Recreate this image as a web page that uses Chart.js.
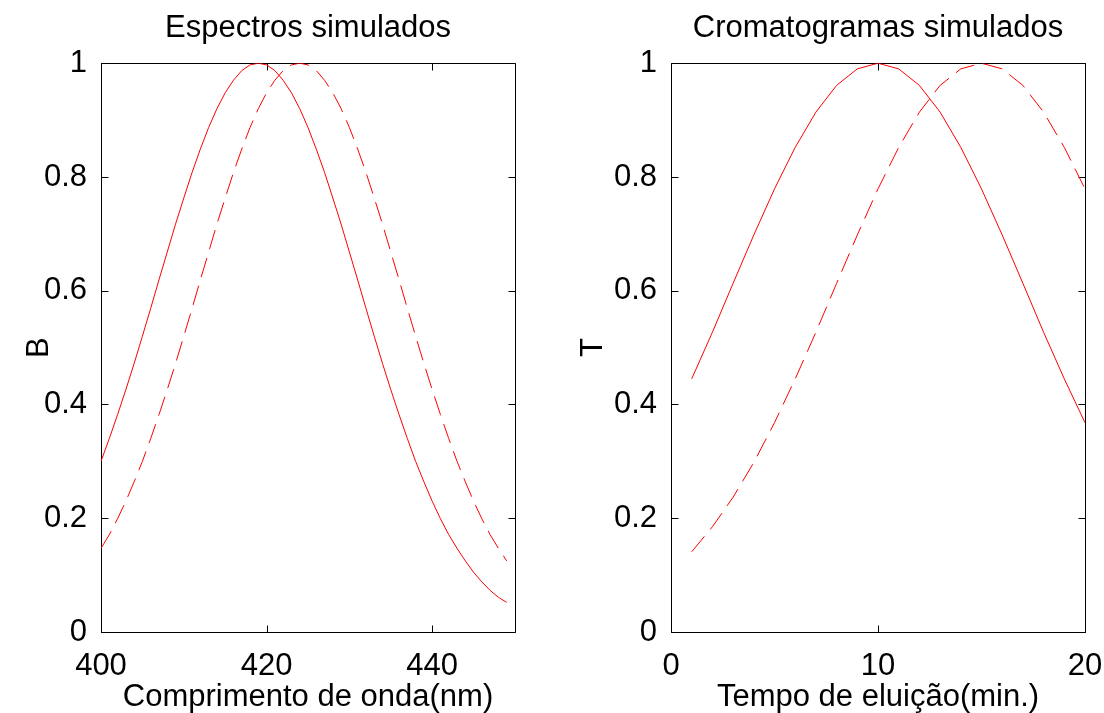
<!DOCTYPE html>
<html>
<head>
<meta charset="utf-8">
<script src="https://cdn.jsdelivr.net/npm/chart.js@4/dist/chart.umd.min.js"></script>
<style>
  body { margin: 0; background: #fff; overflow: hidden; }
  canvas { position: absolute; top: 0; }
</style>
</head>
<body>
<canvas id="espectros" width="552" height="713" style="left:0"></canvas>
<canvas id="cromatogramas" width="552" height="713" style="left:552px"></canvas>
<script>
// comprimento de onda (nm) e espectros
var lambdaNm = [400,401,402,403,404,405,406,407,408,409,
                410,411,412,413,414,415,416,417,418,419,
                420,421,422,423,424,425,426,427,428,429,
                430,431,432,433,434,435,436,437,438,439,
                440,441,442,443,444,445,446,447,448,449];
var spectrumA = [0.300,0.340,0.382,0.426,0.472,0.520,0.569,0.619,0.668,0.717,
                 0.763,0.808,0.849,0.887,0.920,0.948,0.970,0.987,0.997,1.000,
                 0.997,0.987,0.970,0.948,0.920,0.887,0.849,0.808,0.763,0.717,
                 0.668,0.619,0.569,0.520,0.472,0.426,0.382,0.340,0.300,0.264,
                 0.230,0.199,0.171,0.147,0.125,0.105,0.088,0.073,0.061,0.052];
var spectrumB = [0.147,0.171,0.199,0.230,0.264,0.300,0.340,0.382,0.426,0.472,
                 0.520,0.569,0.619,0.668,0.717,0.763,0.808,0.849,0.887,0.920,
                 0.948,0.970,0.987,0.997,1.000,0.997,0.987,0.970,0.948,0.920,
                 0.887,0.849,0.808,0.763,0.717,0.668,0.619,0.569,0.520,0.472,
                 0.426,0.382,0.340,0.300,0.264,0.230,0.199,0.171,0.147,0.125];

// tempo (min) e cromatogramas
var timeMin = [1,2,3,4,5,6,7,8,9,10,11,12,13,14,15,16,17,18,19,20];
var chromA = [0.445,0.527,0.613,0.698,0.779,0.852,0.914,0.961,0.990,1.000,
              0.990,0.961,0.914,0.852,0.779,0.698,0.613,0.527,0.445,0.368];
var chromB = [0.141,0.185,0.237,0.298,0.368,0.445,0.527,0.613,0.698,0.779,
              0.852,0.914,0.961,0.990,1.000,0.990,0.961,0.914,0.852,0.779];

var yTicks = [0, 0.2, 0.4, 0.6, 0.8, 1];
var lambdaTicks = [400, 420, 440];
var timeTicks = [0, 10, 20];

var FONT = 'Liberation Sans, Arial, Helvetica, sans-serif';

// caixa preta e marcas para dentro (estilo matlab)
var boxTicks = {
  id: 'boxTicks',
  beforeDatasetsDraw: function(chart) {
    var ctx = chart.ctx, a = chart.chartArea;
    var sx = chart.scales.x, sy = chart.scales.y;
    var L = Math.round(a.left) + 0.5, R = Math.round(a.right) + 0.5;
    var T = Math.round(a.top) + 0.5, B = Math.round(a.bottom) + 0.5;
    var len = 7;
    ctx.save();
    ctx.strokeStyle = '#000';
    ctx.lineWidth = 1;
    ctx.beginPath();
    ctx.rect(L, T, R - L, B - T);
    sx.ticks.forEach(function(t) {
      var px = Math.round(sx.getPixelForValue(t.value)) + 0.5;
      ctx.moveTo(px, B); ctx.lineTo(px, B - len);
      ctx.moveTo(px, T); ctx.lineTo(px, T + len);
    });
    sy.ticks.forEach(function(t) {
      var py = Math.round(sy.getPixelForValue(t.value)) + 0.5;
      ctx.moveTo(L, py); ctx.lineTo(L + len, py);
      ctx.moveTo(R, py); ctx.lineTo(R - len, py);
    });
    ctx.stroke();
    ctx.restore();
  }
};

function toPoints(xs, ys) {
  return xs.map(function(x, i) { return { x: x, y: ys[i] }; });
}

function makeChart(id, cfg) {
  var ctx = document.getElementById(id).getContext('2d');
  return new Chart(ctx, {
    type: 'line',
    data: {
      datasets: [{
        data: toPoints(cfg.xs, cfg.solid),
        borderColor: '#ff0000',
        borderWidth: 1,
        pointRadius: 0,
        fill: false
      }, {
        data: toPoints(cfg.xs, cfg.dashed),
        borderColor: '#ff0000',
        borderWidth: 1,
        borderDash: [20, 9],
        pointRadius: 0,
        fill: false
      }]
    },
    options: {
      responsive: false,
      animation: false,
      layout: { padding: { left: 0, right: cfg.rightPad, top: 0, bottom: 0 } },
      plugins: {
        legend: { display: false },
        tooltip: { enabled: false },
        title: {
          display: true,
          fullSize: false,
          text: cfg.title,
          color: '#000',
          font: { family: FONT, size: 31, weight: 'normal', lineHeight: 1.2 },
          padding: { top: 10, bottom: 16 }
        }
      },
      scales: {
        x: {
          type: 'linear',
          min: cfg.xMin,
          max: cfg.xMax,
          grid: { display: false },
          border: { display: false },
          afterBuildTicks: function(s) { s.ticks = cfg.xTicks.map(function(v) { return { value: v }; }); },
          afterFit: function(s) { s.height = 81; s.paddingLeft = 0; s.paddingRight = 0; },
          ticks: {
            color: '#000',
            padding: 8,
            maxRotation: 0,
            font: { family: FONT, size: 31 },
            callback: function(v) { return String(v); }
          },
          title: {
            display: true,
            text: cfg.xTitle,
            color: '#000',
            font: { family: FONT, size: 31, lineHeight: 1 },
            padding: 0
          }
        },
        y: {
          min: 0,
          max: 1,
          grid: { display: false },
          border: { display: false },
          afterBuildTicks: function(s) { s.ticks = yTicks.map(function(v) { return { value: v }; }); },
          afterFit: function(s) { s.width = cfg.yWidth; s.paddingTop = 0; s.paddingBottom = 0; },
          ticks: {
            color: '#000',
            padding: 6,
            font: { family: FONT, size: 31 },
            callback: function(v) { return String(v); }
          },
          title: {
            display: true,
            text: cfg.yTitle,
            color: '#000',
            font: { family: FONT, size: 31, lineHeight: 1 },
            padding: cfg.yTitlePad
          }
        }
      }
    },
    plugins: [boxTicks]
  });
}

makeChart('espectros', {
  title: 'Espectros simulados',
  xTitle: 'Comprimento de onda(nm)',
  yTitle: 'B',
  xs: lambdaNm, solid: spectrumA, dashed: spectrumB,
  xMin: 400, xMax: 450, xTicks: lambdaTicks,
  yWidth: 101, rightPad: 37, yTitlePad: 24
});

makeChart('cromatogramas', {
  title: 'Cromatogramas simulados',
  xTitle: 'Tempo de eluição(min.)',
  yTitle: 'T',
  xs: timeMin, solid: chromA, dashed: chromB,
  xMin: 0, xMax: 20, xTicks: timeTicks,
  yWidth: 119, rightPad: 19, yTitlePad: 26
});
</script>
</body>
</html>
